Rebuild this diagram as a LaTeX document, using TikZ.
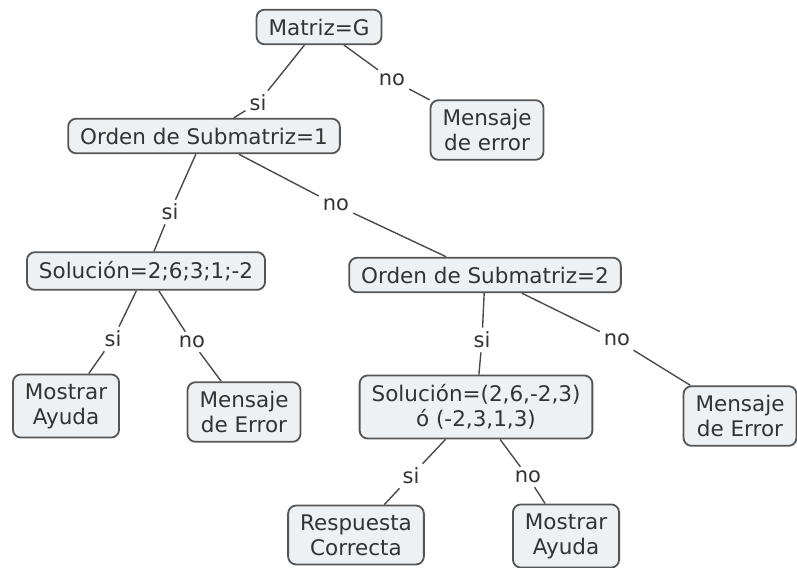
\documentclass[tikz,border=0pt]{standalone}
\usepackage{fontspec}
\setmainfont{DejaVu Sans}
\begin{document}
\definecolor{boxfill}{HTML}{EDF1F3}
\definecolor{boxline}{HTML}{555555}
\definecolor{ink}{HTML}{333333}
\definecolor{wire}{HTML}{4A4A4A}
\tikzset{
  concept/.style={draw=boxline, line width=1.8pt, fill=boxfill, rounded corners=8pt,
    text=ink, align=center, inner xsep=12pt, inner ysep=9pt,
    font=\fontsize{21.5}{25}\selectfont},
  answer/.style={text=ink, inner sep=4pt, font=\fontsize{21}{25}\selectfont},
  conn/.style={draw=wire, line width=1.4pt}
}
\begin{tikzpicture}[x=1pt,y=-1pt]
\path[use as bounding box, fill=white] (0,0) rectangle (797,567);

% concept boxes
\node[concept] (mat)  at (319,27)  {Matriz=G};
\node[concept] (err1) at (487,130) {Mensaje\\de error};
\node[concept] (ord1) at (204,136) {Orden de Submatriz=1};
\node[concept] (sol1) at (146,271) {Solución=2;6;3;1;-2};
\node[concept] (ord2) at (485,275) {Orden de Submatriz=2};
\node[concept] (ayu1) at (66,406)  {Mostrar\\Ayuda};
\node[concept] (err2) at (244,412) {Mensaje\\de Error};
\node[concept] (sol2) at (476,407) {Solución=(2,6,-2,3)\\ó (-2,3,1,3)};
\node[concept] (err3) at (740,416) {Mensaje\\de Error};
\node[concept] (resp) at (356,535) {Respuesta\\Correcta};
\node[concept] (ayu2) at (566,536) {Mostrar\\Ayuda};

% branch labels
\node[answer] (l1)  at (258,103) {si};
\node[answer] (l2)  at (392,80)  {no};
\node[answer] (l3)  at (170,212) {si};
\node[answer] (l4)  at (336,205) {no};
\node[answer] (l5)  at (113,339) {si};
\node[answer] (l6)  at (192,342) {no};
\node[answer] (l7)  at (482,340) {si};
\node[answer] (l8)  at (617,340) {no};
\node[answer] (l9)  at (411,476) {si};
\node[answer] (l10) at (528,477) {no};

% connectors
\draw[conn] (mat) -- (l1);  \draw[conn] (l1) -- (ord1);
\draw[conn] (mat) -- (l2);  \draw[conn] (l2) -- (err1);
\draw[conn] (ord1) -- (l3); \draw[conn] (l3) -- (sol1);
\draw[conn] (ord1) -- (l4); \draw[conn] (l4) -- (ord2);
\draw[conn] (sol1) -- (l5); \draw[conn] (l5) -- (ayu1);
\draw[conn] (sol1) -- (l6); \draw[conn] (l6) -- (err2);
\draw[conn] (ord2) -- (l7); \draw[conn] (l7) -- (sol2);
\draw[conn] (ord2) -- (l8); \draw[conn] (l8) -- (err3);
\draw[conn] (sol2) -- (l9); \draw[conn] (l9) -- (resp);
\draw[conn] (sol2) -- (l10); \draw[conn] (l10) -- (ayu2);
\end{tikzpicture}
\end{document}
